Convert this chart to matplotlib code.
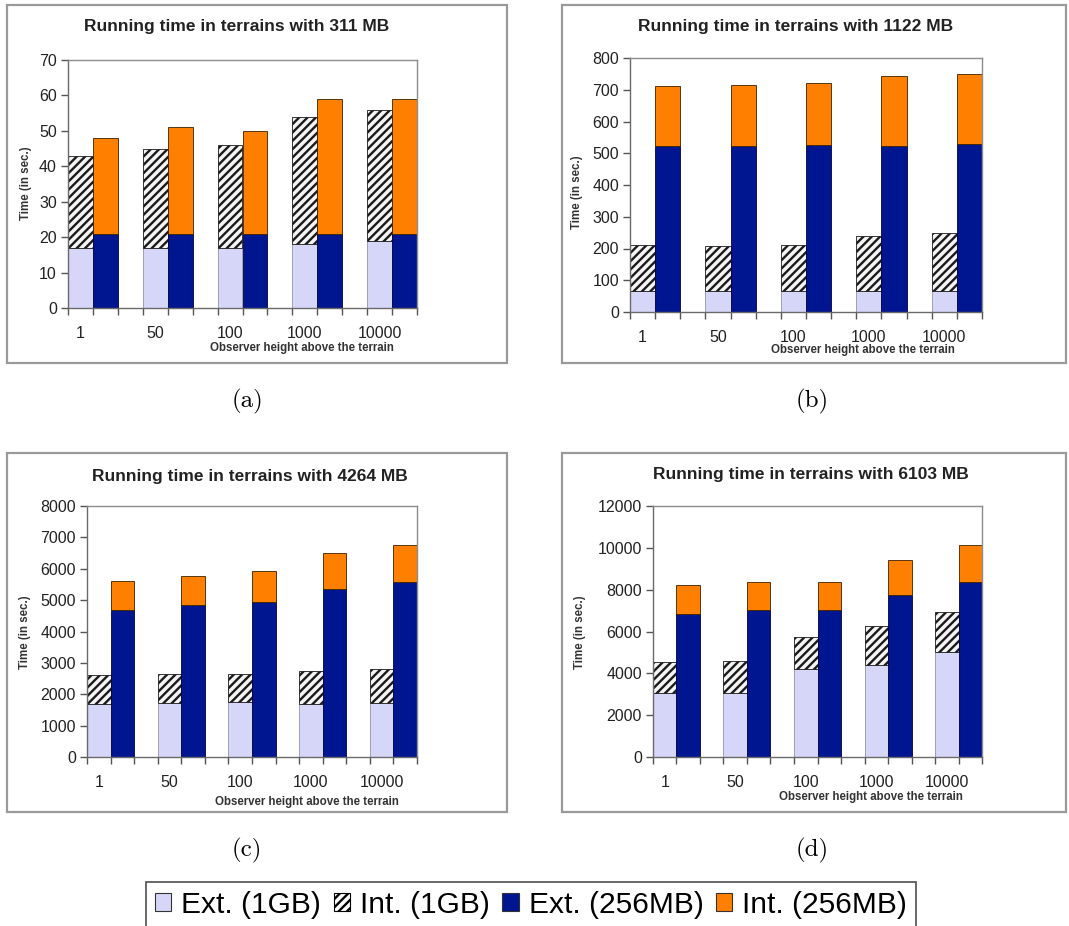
import matplotlib.pyplot as plt
from matplotlib.patches import Patch, Rectangle

plt.rcParams['font.family'] = ['Liberation Sans', 'DejaVu Sans']
plt.rcParams['hatch.linewidth'] = 1.7

W, H = 1069, 926

heights = ['1', '50', '100', '1000', '10000']
series = ['Ext. (1GB)', 'Int. (1GB)', 'Ext. (256MB)', 'Int. (256MB)']

# times in seconds; internal part is stacked on top of the external part
ext_1gb_311 = [17, 17, 17, 18, 19]
int_1gb_311 = [26, 28, 29, 36, 37]
ext_256_311 = [21, 21, 21, 21, 21]
int_256_311 = [27, 30, 29, 38, 38]

ext_1gb_1122 = [65, 65, 65, 65, 65]
int_1gb_1122 = [145, 143, 145, 173, 185]
ext_256_1122 = [522, 522, 527, 524, 528]
int_256_1122 = [190, 193, 193, 220, 222]

ext_1gb_4264 = [1680, 1720, 1750, 1680, 1720]
int_1gb_4264 = [920, 910, 910, 1060, 1090]
ext_256_4264 = [4670, 4830, 4950, 5340, 5570]
int_256_4264 = [940, 940, 970, 1170, 1190]

ext_1gb_6103 = [3070, 3080, 4230, 4390, 5040]
int_1gb_6103 = [1470, 1520, 1500, 1870, 1910]
ext_256_6103 = [6860, 7020, 7050, 7750, 8360]
int_256_6103 = [1360, 1350, 1320, 1690, 1770]

LIGHT = '#d6d6f8'
NAVY = '#001690'
ORANGE = '#ff8000'
GRID = '#8c8c8c'


def px_axes(fig, left, top, right, bottom):
    return fig.add_axes([left / W, 1 - bottom / H, (right - left) / W, (bottom - top) / H])


def panel(fig, box, area, size_mb, ymax, ystep, data, caption, title_xy, ylab_xy, xlab_xy):
    bx0, by0, bx1, by1 = box
    fig.patches.append(Rectangle((bx0 / W, 1 - by1 / H), (bx1 - bx0) / W, (by1 - by0) / H,
                                 transform=fig.transFigure, fill=False,
                                 edgecolor='#9a9a9a', linewidth=1.6))
    ax = px_axes(fig, *area)
    ext1, int1, ext2, int2 = data
    x1 = [3 * i for i in range(len(heights))]
    x2 = [3 * i + 1 for i in range(len(heights))]
    ax.bar(x1, ext1, width=1, align='edge', color=LIGHT, edgecolor='#8080a0', linewidth=0.5)
    ax.bar(x1, int1, bottom=ext1, width=1, align='edge', color='#f4f4f4',
           edgecolor='#1a1a1a', hatch='////', linewidth=0.6)
    ax.bar(x2, ext2, width=1, align='edge', color=NAVY, edgecolor='#000040', linewidth=0.6)
    ax.bar(x2, int2, bottom=ext2, width=1, align='edge', color=ORANGE,
           edgecolor='#3a2000', linewidth=0.6)

    ax.set_xlim(0, 3 * len(heights) - 1)
    ax.set_ylim(0, ymax)
    ax.set_yticks(range(0, ymax + 1, ystep))
    ax.set_xticks([3 * i + 0.5 for i in range(len(heights))])
    ax.set_xticklabels(heights)
    ax.set_xticks(range(0, 3 * len(heights)), minor=True)
    ax.tick_params(axis='x', which='major', length=0, pad=13, labelsize=11.5, labelcolor='#222222')
    ax.tick_params(axis='x', which='minor', length=5, width=1, color='#555555', direction='out')
    ax.tick_params(axis='y', length=5, width=1, color='#555555', pad=3,
                   labelsize=11.5, labelcolor='#222222')
    for name, sp in ax.spines.items():
        sp.set_color(GRID if name in ('top', 'right') else '#6a6a6a')
        sp.set_linewidth(1.0)

    fig.text(title_xy[0] / W, 1 - title_xy[1] / H, 'Running time in terrains with %d MB' % size_mb,
             ha='center', va='center', fontsize=12.5, fontweight='bold', color='#222222')
    fig.text(ylab_xy[0] / W, 1 - ylab_xy[1] / H, 'Time (in sec.)', rotation=90,
             ha='center', va='center', fontsize=8.3, fontweight='bold', color='#333333')
    fig.text(xlab_xy[0] / W, 1 - xlab_xy[1] / H, 'Observer height above the terrain',
             ha='center', va='center', fontsize=8.3, fontweight='bold', color='#333333')
    cx = (bx0 + bx1) / 2 - 10 if bx0 < 100 else (bx0 + bx1) / 2 - 2
    fig.text(cx / W, 1 - (by1 + 38) / H, caption, ha='center', va='center',
             fontsize=18, family='cmr10')
    return ax


fig = plt.figure(figsize=(W / 100, H / 100), dpi=100)

panel(fig, (7, 5, 507, 363), (68, 60, 417, 308), 311, 70, 10,
      (ext_1gb_311, int_1gb_311, ext_256_311, int_256_311), '(a)',
      (237, 27), (26, 183), (302, 348))
panel(fig, (562, 5, 1066, 363), (630, 58, 982, 312), 1122, 800, 100,
      (ext_1gb_1122, int_1gb_1122, ext_256_1122, int_256_1122), '(b)',
      (796, 27), (577, 192), (863, 350))
panel(fig, (7, 453, 507, 812), (87, 506, 417, 757), 4264, 8000, 1000,
      (ext_1gb_4264, int_1gb_4264, ext_256_4264, int_256_4264), '(c)',
      (250, 477), (25, 632), (307, 802))
panel(fig, (562, 453, 1066, 812), (653, 506, 982, 757), 6103, 12000, 2000,
      (ext_1gb_6103, int_1gb_6103, ext_256_6103, int_256_6103), '(d)',
      (811, 475), (580, 632), (871, 797))

handles = [
    Patch(facecolor=LIGHT, edgecolor='#333333', linewidth=0.8),
    Patch(facecolor='white', edgecolor='black', hatch='////', linewidth=0.8),
    Patch(facecolor=NAVY, edgecolor='#333333', linewidth=0.8),
    Patch(facecolor=ORANGE, edgecolor='#333333', linewidth=0.8),
]
leg = fig.legend(handles, series, ncol=4, loc='upper left',
                 bbox_to_anchor=(146 / W, 1 - 882 / H), borderaxespad=0,
                 fontsize=21.5, frameon=True, fancybox=False, shadow=False,
                 handlelength=0.55, handleheight=0.55, handletextpad=0.33,
                 columnspacing=0.42, borderpad=0.3)
leg.get_frame().set_edgecolor('#222222')
leg.get_frame().set_linewidth(1.2)

fig.savefig('out.png', dpi=100)
